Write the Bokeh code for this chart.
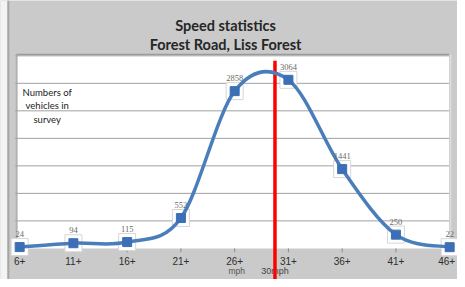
import numpy as np
from bokeh.plotting import figure
from bokeh.models import Range1d
from bokeh.embed import file_html
from bokeh.resources import INLINE
from bokeh.core.properties import value

# ---------------- data ----------------
categories = ["6+", "11+", "16+", "21+", "26+", "31+", "36+", "41+", "46+"]
counts = [24, 94, 115, 552, 2858, 3064, 1441, 250, 22]
grid_values = [500, 1000, 1500, 2000, 2500, 3000, 3500]
title_lines = ["Speed statistics", "Forest Road, Liss Forest"]
y_label_lines = ["Numbers of", "vehicles in", "survey"]
unit_label = "mph"
speed_limit_label = "30mph"
speed_limit_pos = 4.75   # 30 mph, between 26+ and 31+

# ---------------- layout ----------------
W, H = 457, 279
SX, SY = 457 / 465.0, 279 / 287.0   # reference px -> figure px
PX_CAT = 54.69 * SX                  # pixels per category
X0_PX = 19.5 * SX                    # figure px of first category
BASE_PX = 255.0 * SY                 # figure px of value 0
PX_VAL = 0.0566 * SY                 # pixels per vehicle


def rx(ref_px):
    """reference x pixel -> data x"""
    return (ref_px * SX - X0_PX) / PX_CAT


def ry(ref_px):
    """reference y pixel -> data y"""
    return (BASE_PX - ref_px * SY) / PX_VAL


x_range = Range1d((0 - X0_PX) / PX_CAT, (W - X0_PX) / PX_CAT)
y_range = Range1d((BASE_PX - H) / PX_VAL, BASE_PX / PX_VAL)

GRAY = "#cacaca"
p = figure(width=W, height=H, x_range=x_range, y_range=y_range,
           output_backend="svg", toolbar_location=None,
           min_border=0, min_border_left=0, min_border_right=0,
           min_border_top=0, min_border_bottom=0)
p.axis.visible = False
p.grid.visible = False
p.outline_line_color = None
p.background_fill_color = GRAY
p.border_fill_color = GRAY

# left light strip and dark edge line
p.quad(left=x_range.start, right=rx(7), bottom=y_range.start, top=y_range.end,
       fill_color="#f3f3f3", line_color=None)
p.segment(x0=rx(8), y0=y_range.start, x1=rx(8), y1=y_range.end,
          line_color="#a6a6a6", line_width=2)

# white plot area
p.quad(left=rx(17.5), right=rx(456.5), bottom=0, top=ry(55.5),
       fill_color="white", line_color=None)
p.segment(x0=rx(16), y0=ry(55.5), x1=rx(456.5), y1=ry(55.5),
          line_color="#9a9a9a", line_width=1.5)
p.segment(x0=rx(16.3), y0=ry(55.5), x1=rx(16.3), y1=0,
          line_color="#b0b0b0", line_width=1.5)
p.segment(x0=rx(458), y0=ry(55.5), x1=rx(458), y1=0,
          line_color="#dedede", line_width=1.5)

# gridlines
p.segment(x0=[rx(15)] * len(grid_values), y0=grid_values,
          x1=[rx(456.5)] * len(grid_values), y1=grid_values,
          line_color="#a0a0a0", line_width=1)

# tick marks
xs = np.arange(len(categories))
p.segment(x0=xs, y0=[0] * len(xs), x1=xs, y1=[ry(259)] * len(xs),
          line_color="#8a8a8a", line_width=1)

# tick labels (last one nudged left to stay inside the page)
tick_x_offsets = [0] * (len(categories) - 1) + [-3]
p.text(x=xs, y=[0] * len(xs), text=categories, x_offset=tick_x_offsets,
       y_offset=12.5,
       text_font=value("Liberation Sans"), text_font_size="10px",
       text_color="#2e2e2e", text_align="center", text_baseline="middle")
p.text(x=[4], y=[0], text=[unit_label], x_offset=2, y_offset=23,
       text_font=value("Liberation Sans"), text_font_size="8.5px",
       text_color="#555555", text_align="center", text_baseline="middle")
p.text(x=[speed_limit_pos], y=[0], text=[speed_limit_label], y_offset=23,
       text_font=value("Liberation Sans"), text_font_size="9px",
       text_color="#444444", text_align="center", text_baseline="middle")

# red speed limit line
p.segment(x0=[speed_limit_pos], y0=[y_range.start], x1=[speed_limit_pos],
          y1=[ry(62)], line_color="#ff0000", line_width=3.5)

# smoothed curve (Catmull-Rom style bezier through the points)
ys = np.array(counts, dtype=float)
n = len(ys)
bx0, by0, bx1, by1, cx0, cy0, cx1, cy1 = [], [], [], [], [], [], [], []
for i in range(n - 1):
    pr = max(i - 1, 0)
    nx = min(i + 2, n - 1)
    bx0.append(xs[i]); by0.append(ys[i])
    bx1.append(xs[i + 1]); by1.append(ys[i + 1])
    cx0.append(xs[i] + (xs[i + 1] - xs[pr]) / 6.0)
    cy0.append(ys[i] + (ys[i + 1] - ys[pr]) / 6.0)
    cx1.append(xs[i + 1] - (xs[nx] - xs[i]) / 6.0)
    cy1.append(ys[i + 1] - (ys[nx] - ys[i]) / 6.0)

# label boxes behind markers
p.rect(x=xs, y=counts, width=17, height=17, width_units="screen",
       height_units="screen", fill_color="white", line_color="#d6d6d6",
       line_width=1)

p.bezier(x0=bx0, y0=by0, x1=bx1, y1=by1, cx0=cx0, cy0=cy0, cx1=cx1, cy1=cy1,
         line_color="#4a7ebb", line_width=3.5)

p.scatter(x=xs, y=counts, marker="square", size=9,
          fill_color="#3c6fb5", line_color="#3c6fb5")

# data labels
p.text(x=xs, y=counts, text=[str(c) for c in counts], y_offset=-13,
       text_font=value("Liberation Serif"), text_font_size="8.5px",
       text_color="#6a6a6a", text_align="center", text_baseline="middle")

# y-axis description inside the plot
p.text(x=[rx(47.5)] * 3, y=[ry(95), ry(108.5), ry(122)], text=y_label_lines,
       text_font=value("Lato"), text_font_size="9.5px",
       text_color="#222222", text_align="center", text_baseline="middle")

# titles
title_x = rx(229)
p.text(x=[title_x, title_x], y=[ry(25.5), ry(45.5)], text=title_lines,
       text_font=value("Lato"), text_font_style="bold", text_font_size="14.5px",
       text_color="#262626", text_align="center", text_baseline="alphabetic")

open("out.html", "w").write(file_html(p, INLINE))
